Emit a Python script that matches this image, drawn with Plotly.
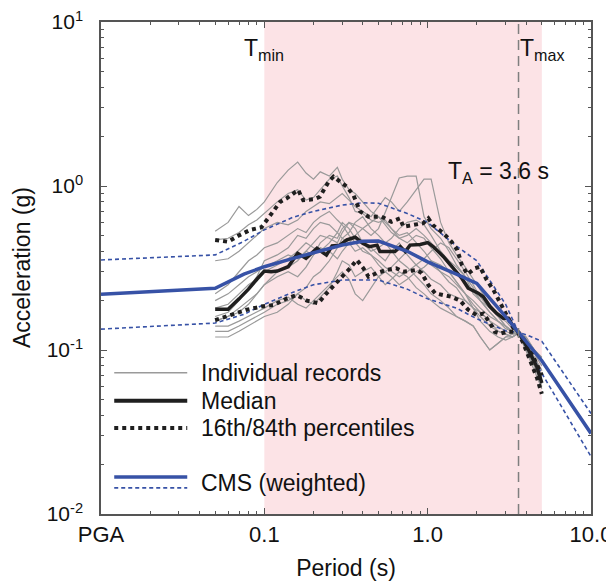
import math
import plotly.graph_objects as go

# ---------------- data ----------------
T_REC = [0.05, 0.06, 0.07, 0.08, 0.09, 0.10, 0.12, 0.14, 0.16, 0.18, 0.20, 0.22, 0.25, 0.28,
         0.30, 0.33, 0.36, 0.40, 0.45, 0.50, 0.55, 0.60, 0.67, 0.75, 0.85, 0.95, 1.05, 1.2,
         1.35, 1.5, 1.7, 1.9, 2.1, 2.4, 2.7, 3.0, 3.3, 3.6, 4.0, 4.5, 5.0]

REC_01 = [0.53, 0.60, 0.75, 0.66, 0.72, 0.80, 1.05, 1.25, 1.40, 1.20, 1.10, 1.22, 1.15, 1.30, 1.10, 0.95, 0.90, 0.80, 0.70, 0.65, 0.60, 0.55, 0.50, 0.52, 0.45, 0.40, 0.35, 0.30, 0.26, 0.24, 0.20, 0.18, 0.17, 0.15, 0.13, 0.125, 0.12, 0.127, 0.11, 0.09, 0.075]
REC_02 = [0.47, 0.48, 0.52, 0.58, 0.62, 0.68, 0.80, 0.90, 0.95, 0.82, 0.85, 0.95, 1.10, 1.15, 1.00, 0.85, 0.70, 0.68, 0.62, 0.60, 0.62, 0.55, 0.48, 0.45, 0.50, 0.48, 0.42, 0.36, 0.30, 0.26, 0.22, 0.20, 0.18, 0.16, 0.15, 0.14, 0.13, 0.127, 0.105, 0.085, 0.068]
REC_03 = [0.15, 0.16, 0.18, 0.20, 0.22, 0.25, 0.30, 0.32, 0.35, 0.40, 0.38, 0.45, 0.50, 0.48, 0.55, 0.60, 0.58, 0.55, 0.50, 0.55, 0.70, 0.85, 1.12, 1.15, 1.15, 0.65, 0.55, 0.48, 0.40, 0.33, 0.28, 0.22, 0.20, 0.17, 0.15, 0.135, 0.13, 0.127, 0.112, 0.095, 0.08]
REC_04 = [0.13, 0.13, 0.14, 0.15, 0.16, 0.17, 0.19, 0.20, 0.22, 0.24, 0.28, 0.30, 0.35, 0.42, 0.48, 0.52, 0.60, 0.65, 0.55, 0.50, 0.45, 0.48, 0.55, 0.60, 0.62, 0.58, 0.50, 0.40, 0.35, 0.32, 0.28, 0.24, 0.20, 0.17, 0.15, 0.14, 0.13, 0.127, 0.10, 0.08, 0.062]
REC_05 = [0.16, 0.17, 0.20, 0.24, 0.28, 0.35, 0.38, 0.42, 0.50, 0.48, 0.55, 0.60, 0.58, 0.52, 0.48, 0.45, 0.40, 0.42, 0.38, 0.33, 0.30, 0.32, 0.36, 0.40, 0.38, 0.35, 0.33, 0.30, 0.28, 0.25, 0.22, 0.19, 0.17, 0.15, 0.14, 0.13, 0.125, 0.127, 0.115, 0.10, 0.09]
REC_06 = [0.14, 0.14, 0.15, 0.16, 0.17, 0.18, 0.20, 0.21, 0.19, 0.18, 0.20, 0.22, 0.25, 0.28, 0.30, 0.27, 0.22, 0.20, 0.24, 0.28, 0.30, 0.28, 0.25, 0.27, 0.30, 0.32, 0.35, 0.33, 0.30, 0.26, 0.22, 0.18, 0.15, 0.13, 0.12, 0.115, 0.12, 0.127, 0.12, 0.10, 0.085]
REC_07 = [0.18, 0.19, 0.22, 0.25, 0.27, 0.30, 0.33, 0.36, 0.40, 0.45, 0.42, 0.40, 0.45, 0.52, 0.60, 0.55, 0.48, 0.45, 0.42, 0.38, 0.35, 0.40, 0.45, 0.38, 0.33, 0.30, 0.27, 0.25, 0.22, 0.21, 0.20, 0.18, 0.16, 0.14, 0.13, 0.125, 0.12, 0.127, 0.11, 0.09, 0.07]
REC_08 = [0.12, 0.12, 0.13, 0.14, 0.15, 0.16, 0.17, 0.19, 0.22, 0.20, 0.19, 0.21, 0.24, 0.30, 0.35, 0.33, 0.28, 0.30, 0.32, 0.28, 0.25, 0.27, 0.30, 0.28, 0.24, 0.22, 0.20, 0.18, 0.17, 0.16, 0.15, 0.14, 0.12, 0.10, 0.11, 0.12, 0.12, 0.127, 0.10, 0.08, 0.06]
REC_09 = [0.20, 0.22, 0.25, 0.28, 0.30, 0.32, 0.35, 0.38, 0.36, 0.40, 0.45, 0.50, 0.48, 0.45, 0.52, 0.60, 0.55, 0.45, 0.40, 0.42, 0.45, 0.40, 0.35, 0.32, 0.28, 0.25, 0.22, 0.20, 0.18, 0.16, 0.15, 0.14, 0.12, 0.10, 0.11, 0.12, 0.125, 0.127, 0.118, 0.10, 0.085]
REC_10 = [0.15, 0.16, 0.17, 0.19, 0.22, 0.25, 0.28, 0.30, 0.28, 0.32, 0.38, 0.42, 0.40, 0.36, 0.40, 0.45, 0.50, 0.55, 0.60, 0.65, 0.58, 0.52, 0.48, 0.50, 0.55, 0.50, 0.45, 0.38, 0.33, 0.30, 0.26, 0.23, 0.20, 0.18, 0.16, 0.14, 0.13, 0.127, 0.108, 0.09, 0.075]
REC_11 = [0.35, 0.36, 0.40, 0.45, 0.50, 0.55, 0.60, 0.58, 0.62, 0.70, 0.75, 0.80, 0.78, 0.85, 0.90, 0.82, 0.75, 0.70, 0.65, 0.75, 0.85, 0.80, 0.70, 0.80, 0.95, 1.10, 1.10, 0.60, 0.45, 0.38, 0.32, 0.27, 0.23, 0.19, 0.16, 0.14, 0.13, 0.127, 0.12, 0.10, 0.09]
REC_12 = [0.22, 0.25, 0.30, 0.35, 0.38, 0.42, 0.45, 0.50, 0.55, 0.52, 0.60, 0.65, 0.70, 0.62, 0.58, 0.50, 0.45, 0.40, 0.38, 0.35, 0.32, 0.30, 0.28, 0.30, 0.33, 0.36, 0.40, 0.45, 0.42, 0.36, 0.30, 0.25, 0.21, 0.18, 0.16, 0.15, 0.135, 0.127, 0.10, 0.075, 0.058]
RECORDS = [REC_01, REC_02, REC_03, REC_04, REC_05, REC_06, REC_07, REC_08, REC_09, REC_10, REC_11, REC_12]

MEDIAN_T = [0.05, 0.06, 0.07, 0.08, 0.09, 0.10, 0.11, 0.12, 0.14, 0.16, 0.18, 0.21, 0.24, 0.26, 0.29,
            0.32, 0.36, 0.40, 0.44, 0.49, 0.51, 0.63, 0.68, 0.73, 0.78, 0.90, 1.0, 1.08, 1.25, 1.40,
            1.54, 1.62, 1.77, 2.04, 2.19, 2.41, 2.65, 2.91, 3.12, 3.35, 3.6, 4.05, 4.34, 4.66, 5.0]
MEDIAN_SA = [0.177, 0.177, 0.205, 0.235, 0.27, 0.303, 0.30, 0.303, 0.322, 0.389, 0.362, 0.417, 0.379, 0.431, 0.436,
             0.469, 0.487, 0.448, 0.427, 0.436, 0.398, 0.398, 0.427, 0.398, 0.436, 0.44, 0.452, 0.427, 0.371, 0.322,
             0.286, 0.273, 0.238, 0.222, 0.211, 0.184, 0.167, 0.156, 0.156, 0.139, 0.128, 0.105, 0.091, 0.079, 0.063]

P84_T = [0.05, 0.06, 0.07, 0.082, 0.096, 0.111, 0.125, 0.137, 0.161, 0.173, 0.2, 0.219, 0.247, 0.265, 0.291,
         0.32, 0.351, 0.386, 0.434, 0.523, 0.60, 0.677, 0.71, 0.82, 0.94, 1.01, 1.08, 1.25, 1.40, 1.52,
         1.62, 1.75, 1.95, 2.09, 2.30, 2.53, 2.78, 3.05, 3.35, 3.6, 4.0, 4.34, 4.66, 5.0]
P84_SA = [0.469, 0.457, 0.50, 0.54, 0.56, 0.682, 0.80, 0.84, 0.946, 0.82, 0.83, 0.86, 1.06, 1.14, 1.06,
          0.99, 0.88, 0.70, 0.65, 0.65, 0.605, 0.635, 0.565, 0.575, 0.593, 0.635, 0.575, 0.515, 0.457, 0.407,
          0.33, 0.29, 0.315, 0.322, 0.267, 0.232, 0.193, 0.16, 0.136, 0.128, 0.112, 0.095, 0.082, 0.07]

P16_T = [0.05, 0.065, 0.078, 0.096, 0.114, 0.137, 0.158, 0.182, 0.214, 0.241, 0.277, 0.305, 0.335, 0.368, 0.404,
         0.434, 0.487, 0.562, 0.642, 0.71, 0.857, 0.92, 1.01, 1.11, 1.25, 1.40, 1.58, 1.77, 2.0, 2.19,
         2.41, 2.58, 2.78, 3.05, 3.35, 3.6, 3.85, 4.24, 4.66, 5.0]
P16_SA = [0.152, 0.167, 0.176, 0.184, 0.188, 0.206, 0.216, 0.20, 0.193, 0.222, 0.255, 0.286, 0.315, 0.354, 0.315,
          0.28, 0.294, 0.308, 0.315, 0.30, 0.308, 0.294, 0.249, 0.222, 0.216, 0.211, 0.20, 0.176, 0.163, 0.167,
          0.146, 0.129, 0.126, 0.129, 0.129, 0.126, 0.11, 0.087, 0.068, 0.054]

# PGA plotted at T = 0.01
CMS_T = [0.01, 0.05, 0.075, 0.1, 0.15, 0.2, 0.3, 0.4, 0.5, 0.75, 1.0, 1.5, 2.0, 3.0, 3.6, 4.0, 5.0, 10.0]
CMS_MED = [0.219, 0.238, 0.29, 0.322, 0.362, 0.39, 0.437, 0.46, 0.462, 0.40, 0.345, 0.29, 0.255, 0.16, 0.128, 0.112, 0.086, 0.031]
CMS_UP = [0.354, 0.38, 0.46, 0.54, 0.645, 0.70, 0.765, 0.79, 0.785, 0.68, 0.60, 0.43, 0.35, 0.19, 0.128, 0.124, 0.113, 0.041]
CMS_LO = [0.134, 0.146, 0.165, 0.19, 0.225, 0.25, 0.267, 0.268, 0.267, 0.235, 0.205, 0.18, 0.155, 0.131, 0.128, 0.105, 0.072, 0.0224]

T_MIN, T_MAX, T_A = 0.1, 5.0, 3.6

X_TICKS = [0.01, 0.1, 1, 10]
X_TICK_TEXT = ["PGA", "0.1", "1.0", "10.0"]
Y_TICKS = [0.01, 0.1, 1, 10]
Y_TICK_TEXT = ["10<sup>-2</sup>", "10<sup>-1</sup>", "10<sup>0</sup>", "10<sup>1</sup>"]
MINOR = [m * 10 ** e for e in (-2, -1, 0) for m in range(2, 10)]

# ---------------- style ----------------
FONT = "Liberation Sans, Arial, sans-serif"
FS = 23
BLUE = "#3752A6"
GRAY = "#9a9a9a"
BLACK = "#1f1f1f"
AXIS = "#555555"
TXT = "#111111"

fig = go.Figure()

for rec in RECORDS:
    fig.add_trace(go.Scatter(x=T_REC, y=rec, mode="lines",
                             line=dict(color=GRAY, width=1.2), showlegend=False, hoverinfo="skip"))

fig.add_trace(go.Scatter(x=CMS_T, y=CMS_UP, mode="lines",
                         line=dict(color=BLUE, width=1.6, dash="4px,3px"), showlegend=False))
fig.add_trace(go.Scatter(x=CMS_T, y=CMS_LO, mode="lines",
                         line=dict(color=BLUE, width=1.6, dash="4px,3px"), showlegend=False))
fig.add_trace(go.Scatter(x=P84_T, y=P84_SA, mode="lines",
                         line=dict(color=BLACK, width=4, dash="dot"), showlegend=False))
fig.add_trace(go.Scatter(x=P16_T, y=P16_SA, mode="lines",
                         line=dict(color=BLACK, width=4, dash="dot"), showlegend=False))
fig.add_trace(go.Scatter(x=MEDIAN_T, y=MEDIAN_SA, mode="lines",
                         line=dict(color=BLACK, width=3.5), showlegend=False))
fig.add_trace(go.Scatter(x=CMS_T, y=CMS_MED, mode="lines",
                         line=dict(color=BLUE, width=3.5), showlegend=False))

# shaded period range and T_A line
fig.add_shape(type="rect", xref="x", yref="paper", x0=T_MIN, x1=T_MAX, y0=0, y1=1,
              fillcolor="#FCE3E6", line=dict(width=0), layer="below")
fig.add_shape(type="line", xref="x", yref="paper", x0=T_A, x1=T_A, y0=0, y1=1,
              line=dict(color="#7f7f7f", width=1.5, dash="10px,6px"), layer="above")

# manual legend
LEG_X0, LEG_X1, LEG_TX = 0.027, 0.176, 0.2
legend_rows = [
    ("Individual records", 0.287, [dict(color=GRAY, width=1.5)]),
    ("Median", 0.230, [dict(color=BLACK, width=4)]),
    ("16th/84th percentiles", 0.175, [dict(color=BLACK, width=4, dash="dot")]),
]
for label, yy, styles in legend_rows:
    for st in styles:
        fig.add_shape(type="line", xref="paper", yref="paper", x0=LEG_X0, x1=LEG_X1, y0=yy, y1=yy, line=st)
    fig.add_annotation(xref="paper", yref="paper", x=LEG_TX, y=yy, text=label, showarrow=False,
                       xanchor="left", yanchor="middle", font=dict(family=FONT, size=FS, color=TXT))
fig.add_shape(type="line", xref="paper", yref="paper", x0=LEG_X0, x1=LEG_X1, y0=0.075, y1=0.075,
              line=dict(color=BLUE, width=3.5))
fig.add_shape(type="line", xref="paper", yref="paper", x0=LEG_X0, x1=LEG_X1, y0=0.053, y1=0.053,
              line=dict(color=BLUE, width=1.6, dash="4px,3px"))
fig.add_annotation(xref="paper", yref="paper", x=LEG_TX, y=0.064, text="CMS (weighted)", showarrow=False,
                   xanchor="left", yanchor="middle", font=dict(family=FONT, size=FS, color=TXT))

# text labels
lbl_font = dict(family=FONT, size=FS, color=TXT)
fig.add_annotation(x=math.log10(T_MIN), y=0.835, text="T<sub>min</sub>", showarrow=False,
                   xanchor="center", yanchor="middle", font=lbl_font)
fig.add_annotation(x=math.log10(T_MAX), y=0.835, text="T<sub>max</sub>", showarrow=False,
                   xanchor="center", yanchor="middle", font=lbl_font)
fig.add_annotation(x=0.434, y=0.082, text="T<sub>A</sub> = 3.6 s", showarrow=False,
                   xanchor="center", yanchor="middle", font=lbl_font)

# y-axis title (placed as an annotation so it can sit closer to the page edge)
fig.add_annotation(xref="paper", yref="paper", x=-0.161, y=0.5, text="Acceleration (g)", textangle=-90,
                   showarrow=False, xanchor="center", yanchor="middle", font=lbl_font)

axis_common = dict(
    type="log", showgrid=False, zeroline=False, showline=True, linecolor=AXIS, linewidth=1.5,
    mirror="allticks", ticks="inside", ticklen=6, tickwidth=1.2, tickcolor=AXIS, automargin=False,
    ticklabeloverflow="allow",
    minor=dict(tickmode="array", tickvals=MINOR, ticks="inside", ticklen=3, tickwidth=1, tickcolor=AXIS),
)
fig.update_xaxes(range=[-2, 1], tickmode="array", tickvals=X_TICKS, ticktext=X_TICK_TEXT,
                 tickfont=dict(family=FONT, size=22, color=TXT),
                 title=dict(text="Period (s)", font=dict(family=FONT, size=FS, color=TXT), standoff=14),
                 **axis_common)
fig.update_yaxes(range=[-2, 1], tickmode="array", tickvals=Y_TICKS, ticktext=Y_TICK_TEXT,
                 tickfont=dict(family=FONT, size=21, color=TXT), ticklabelstandoff=12,
                 **axis_common)

# the page body has an 8 px margin: the figure is sized so the plot frame
# lands at x 101-591, y 22-514 of the 614x584 window
fig.update_layout(width=606, height=576, margin=dict(l=93, r=23, t=14, b=70),
                  paper_bgcolor="white", plot_bgcolor="white", showlegend=False)

fig.write_html("out.html")
